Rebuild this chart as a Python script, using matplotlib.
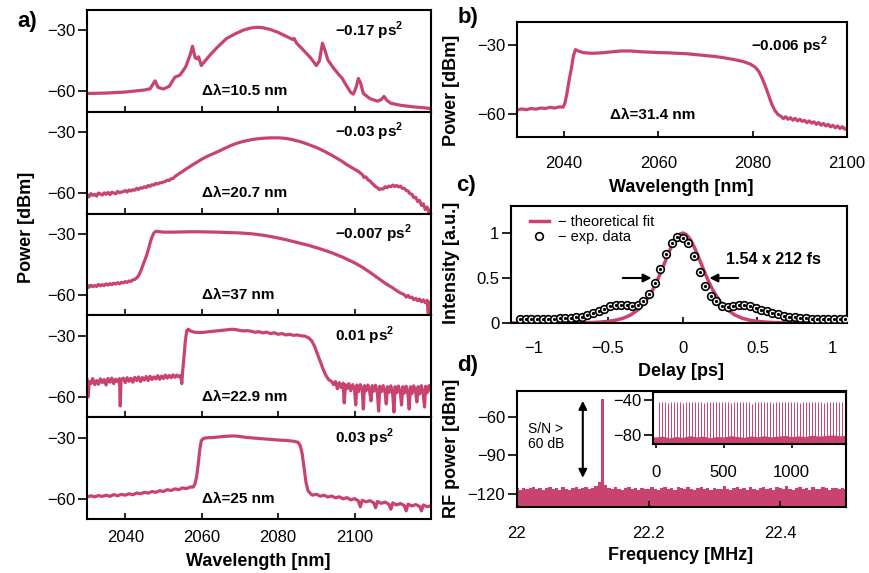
import matplotlib
matplotlib.use('Agg')
import matplotlib.pyplot as plt
from matplotlib.ticker import FuncFormatter

plt.rcParams['font.family'] = ['Liberation Sans', 'DejaVu Sans']
plt.rcParams['mathtext.fontset'] = 'custom'
plt.rcParams['mathtext.rm'] = 'Liberation Sans'
plt.rcParams['mathtext.bf'] = 'Liberation Sans:bold'

PINK = '#C8446F'

# ---- panel a: spectra for five dispersion values ----
a1_wl = [2030, 2035, 2040, 2045, 2046.5, 2047.8, 2048.6, 2050, 2051.5, 2053, 2054.3, 2055.8, 2057,
         2057.6, 2058.3, 2058.8, 2059.2, 2059.9, 2062, 2064, 2066.5, 2067.5, 2069, 2071, 2073, 2074.5,
         2076, 2078, 2080, 2082, 2083.8, 2084.2, 2084.8, 2086.5, 2088.5, 2090, 2090.8, 2091.6, 2092.3,
         2093, 2094.5, 2096, 2096.8, 2097.5, 2099, 2099.7, 2100.4, 2101, 2101.6, 2102.3, 2104, 2106,
         2107, 2107.7, 2108.5, 2109.5, 2112, 2115, 2118, 2120]
a1_db = [-61, -60.8, -60.3, -59.3, -58.7, -54.8, -58, -58.8, -57.5, -53, -52, -48, -42,
         -37.8, -43.5, -44, -43, -47.3, -42.5, -38.5, -34, -33, -31.5, -29.8, -28.8, -28.5,
         -28.7, -29.6, -31, -32.8, -34.5, -34, -36.2, -39.5, -43.5, -47.3, -45, -36.3, -40,
         -44.5, -48.5, -52, -53.6, -56, -60.5, -61.3, -58, -53.6, -56, -61, -63.5, -64.8,
         -64, -62.4, -64.5, -65.8, -66.8, -67.5, -68, -68.4]

a2_wl = [2030, 2030.5, 2031, 2031.5, 2032, 2032.5, 2033, 2033.5, 2034, 2034.5, 2035, 2035.5, 2036,
         2036.5, 2037, 2037.5, 2038, 2038.5, 2039, 2039.5, 2040, 2040.5, 2041, 2041.5, 2042, 2042.5,
         2043, 2043.5, 2044, 2044.5, 2045, 2045.5, 2046, 2046.5, 2047, 2047.5, 2048, 2048.5, 2049,
         2049.5, 2050, 2050.5, 2051, 2051.5, 2052, 2052.5, 2053, 2054, 2055, 2056, 2057, 2058, 2059,
         2060, 2061, 2062, 2063, 2064, 2065, 2066, 2067, 2068, 2069, 2070, 2071, 2072, 2073, 2074,
         2075, 2076, 2077, 2078, 2079, 2080, 2081, 2082, 2083, 2084, 2085, 2086, 2087, 2088, 2089,
         2090, 2091, 2092, 2093, 2094, 2095, 2096, 2097, 2098, 2099, 2100, 2101, 2102, 2102.5, 2103,
         2103.5, 2104, 2104.5, 2105, 2105.5, 2106, 2106.5, 2107, 2107.5, 2108, 2108.5, 2109, 2109.5,
         2110, 2110.5, 2111, 2111.5, 2112, 2112.5, 2113, 2113.5, 2114, 2114.5, 2115, 2115.5, 2116,
         2116.5, 2117, 2117.5, 2118, 2118.5, 2119, 2119.5, 2120]
a2_db = [-60.5, -61.8, -60.2, -61, -60.6, -61.4, -59.9, -60.4, -60.9, -59.8, -60.5, -59.6, -60.7,
         -59.5, -59.9, -60.3, -59.1, -59.8, -59.4, -59.2, -58.7, -59.4, -58.4, -58.9, -58.3, -58.5,
         -57.6, -58.1, -57.3, -57.5, -56.8, -57.2, -56.2, -56.6, -55.8, -56, -55.2, -55.5, -54.9,
         -54.8, -54.5, -54.2, -53.6, -53.7, -52.9, -52.8, -51.8, -50.5, -49.3, -48, -46.8, -45.6, -44.5,
         -43.3, -42.3, -41.4, -40.6, -39.8, -38.9, -38, -37.1, -36.3, -35.6, -35, -34.5, -34.1, -33.7,
         -33.4, -33.2, -33, -32.9, -32.8, -32.8, -32.8, -32.9, -33.1, -33.4, -33.8, -34.3, -34.8,
         -35.4, -36.1, -36.8, -37.5, -38.4, -39.3, -40.3, -41.3, -42.4, -43.5, -44.7, -46, -47.1,
         -48.2, -49.3, -50.8, -52.3, -52, -53.4, -53.9, -55, -55.8, -56.8, -57.3, -58.2, -57.8,
         -57.9, -56.8, -57.3, -56.5, -56.8, -56, -56.7, -56.2, -56.9, -56.5, -57.6, -57.6, -58.6, -58.9,
         -60.2, -60.5, -62.2, -62, -64, -63.5, -66, -65.2, -68, -66.8, -69.5, -68]

a3_wl = [2030, 2030.5, 2031, 2031.5, 2032, 2032.5, 2033, 2033.5, 2034, 2034.5, 2035, 2035.5, 2036,
         2036.5, 2037, 2037.5, 2038, 2038.5, 2039, 2039.5, 2040, 2040.5, 2041, 2041.5, 2042, 2042.5,
         2043, 2043.5, 2044, 2044.5, 2045, 2045.5, 2046, 2046.5, 2047, 2047.5, 2048, 2049, 2050,
         2052, 2055, 2058, 2061, 2064, 2067, 2070, 2073, 2076, 2079, 2082, 2085, 2088, 2091, 2094,
         2097, 2100, 2102, 2104, 2106, 2108, 2110, 2111, 2112, 2113, 2113.5, 2114, 2114.5, 2115,
         2115.5, 2116, 2116.5, 2117, 2117.5, 2118, 2118.5, 2119, 2119.3, 2119.6, 2120]
a3_db = [-55, -56.2, -55.2, -55.9, -55.3, -55.8, -54.8, -55.5, -54.9, -55.4, -54.5, -55.1, -54.4,
         -54.9, -54.2, -54.6, -53.9, -54.5, -53.8, -54, -53.4, -53.8, -53.1, -53.3, -52.6, -52.3,
         -51.6, -50.5, -48.5, -46, -43.5, -41, -38, -34.5, -31.5, -29.5, -28.7, -28.9, -29.1,
         -29.1, -29, -28.9, -29, -29.1, -29.3, -29.5, -29.9, -30.6, -31.6, -32.8, -34.2, -35.6, -37.3,
         -39.2, -41.5, -44.2, -46.3, -48.8, -51.5, -54.2, -56.5, -57.8, -59, -59.8, -61, -60.2, -61.3,
         -61, -62.3, -61.6, -62.8, -62, -63.3, -62.4, -63.8, -62.6, -70, -63.5, -64]

a4_wl = [2030, 2030.3, 2030.6, 2031, 2031.5, 2032, 2032.5, 2033, 2033.5, 2034, 2034.5, 2035, 2035.5,
         2036, 2036.5, 2037, 2037.5, 2038, 2038.5, 2038.7, 2038.9, 2039.5, 2040, 2040.5, 2041, 2041.5,
         2042, 2042.5, 2043, 2043.5, 2044, 2044.5, 2045, 2045.5, 2046, 2046.5, 2047, 2047.5, 2048,
         2048.5, 2049, 2049.5, 2050, 2050.5, 2051, 2051.5, 2052, 2052.5, 2053, 2053.5, 2054, 2054.5,
         2054.8, 2055, 2055.3, 2055.7, 2056.1, 2056.5, 2057, 2058, 2059, 2060, 2061, 2062, 2063, 2064,
         2065, 2066, 2067, 2068, 2069, 2070, 2071, 2072, 2073, 2074, 2075, 2076, 2077, 2078, 2079,
         2080, 2081, 2082, 2083, 2084, 2085, 2086, 2087, 2088, 2088.8, 2089.5, 2090.2, 2091, 2091.8,
         2092.5, 2093.2, 2094, 2094.5, 2095, 2095.5, 2096, 2096.5, 2097, 2097.3, 2097.6, 2098, 2098.5,
         2099, 2099.5, 2100, 2100.3, 2100.6, 2101, 2101.5, 2102, 2102.3, 2102.6, 2103, 2103.5, 2104,
         2104.3, 2104.6, 2105, 2105.5, 2106, 2106.3, 2106.6, 2107, 2107.5, 2108, 2108.3, 2108.6, 2109,
         2109.5, 2110, 2110.3, 2110.6, 2111, 2111.5, 2112, 2112.3, 2112.6, 2113, 2113.5, 2114, 2114.3,
         2114.6, 2115, 2115.5, 2116, 2116.3, 2116.6, 2117, 2117.5, 2118, 2118.3, 2118.6, 2119, 2119.5,
         2120]
a4_db = [-51.5, -60, -52.5, -53.5, -51, -54, -52, -53.8, -51.2, -53, -51.5, -54.2, -51,
         -52.8, -50.8, -53.5, -51.3, -52.6, -51, -64.5, -52, -50.8, -53, -50.6, -52.4, -50.9,
         -52.8, -50.4, -52, -50.2, -52.5, -50.5, -51.8, -50, -52, -49.9, -51.5, -50.2, -51.2,
         -49.6, -51.4, -49.8, -51, -49.3, -50.8, -49.5, -50.6, -49.2, -50.4, -49.3, -50.2, -49.5,
         -53.5, -48, -42, -33, -27.5, -26.8, -27.6, -28.2, -28.4, -28.4, -28.2, -28, -27.8, -27.6,
         -27.4, -27.2, -27, -26.8, -27, -27.4, -27.6, -27.5, -27.8, -28.3, -28, -28.6, -28.2, -29, -28.5,
         -29.3, -28.9, -29.6, -29.3, -29.8, -29.6, -30, -30.2, -31, -32.5, -35, -38.5, -42.5, -46.5,
         -49.5, -51.5, -52.5, -54, -52.5, -56, -53, -55.5, -53.3, -63, -54, -56, -53.5,
         -57, -54, -56.5, -64, -54.2, -57.5, -54, -56.8, -66, -54.5, -57, -54.2, -58,
         -62, -54.5, -57.2, -54.3, -58.5, -67, -54.8, -57.5, -54.5, -58, -63.5, -55, -57.8,
         -54.6, -59, -67.5, -55, -58, -54.7, -58.5, -64, -55, -58.2, -54.8, -59, -66,
         -55, -58.5, -54.6, -58, -62.5, -55, -58.6, -54.5, -59, -65, -54.8, -58, -54.5,
         -57]

a5_wl = [2030, 2031, 2032, 2033, 2034, 2035, 2036, 2037, 2038, 2039, 2040, 2041, 2042, 2043, 2044,
         2045, 2046, 2047, 2048, 2049, 2050, 2051, 2052, 2053, 2054, 2055, 2056, 2057, 2057.8, 2058.3,
         2058.7, 2059.1, 2059.5, 2059.9, 2060.5, 2061.5, 2063, 2065, 2067, 2068.5, 2070, 2072, 2074,
         2076, 2078, 2080, 2082, 2084, 2085.2, 2085.8, 2086.3, 2086.8, 2087.3, 2087.8, 2088.5, 2089,
         2090, 2091, 2092, 2093, 2094, 2095, 2096, 2097, 2098, 2099, 2100, 2101, 2101.5, 2102, 2103,
         2104, 2105, 2105.5, 2106, 2107, 2108, 2109, 2109.5, 2110, 2111, 2112, 2113, 2113.5, 2114,
         2115, 2116, 2117, 2117.5, 2118, 2119, 2120]
a5_db = [-59.2, -58.6, -59.1, -58.5, -58.9, -58.3, -58.9, -58, -58.6, -57.9, -58.3, -57.6, -58.1, -57.2,
         -57.6, -56.9, -57.3, -56.5, -56.9, -56.1, -56.5, -55.6, -56, -55.2, -55.6, -54.7, -55.1, -54.3,
         -54.3, -52.5, -49, -43, -36, -31.5, -30.4, -30.1, -30, -29.6, -29.3, -29.2, -29.5, -30, -30.3,
         -30.6, -30.9, -31.2, -31.4, -31.8, -32.3, -34, -38, -45, -52, -56, -57.6, -58.3, -57.8, -58.8,
         -58.3, -59.2, -58.7, -59.6, -59.1, -60.1, -59.5, -60.6, -60, -61.1, -64, -60.8, -61.6, -61,
         -62, -64.5, -61.4, -62.3, -61.7, -62.8, -65.2, -62.1, -63.1, -62.4, -63.4, -66, -62.7, -63.6,
         -62.9, -63.8, -66, -63.1, -64, -63.5]

a_gdd = ['\u22120.17 ps$^{\\mathbf{2}}$', '\u22120.03 ps$^{\\mathbf{2}}$', '\u22120.007 ps$^{\\mathbf{2}}$',
         '0.01 ps$^{\\mathbf{2}}$', '0.03 ps$^{\\mathbf{2}}$']
a_bw = ['\u0394\u03bb=10.5 nm', '\u0394\u03bb=20.7 nm', '\u0394\u03bb=37 nm', '\u0394\u03bb=22.9 nm',
        '\u0394\u03bb=25 nm']

# ---- panel b ----
b_wl = [2030, 2031, 2032, 2033, 2034, 2035, 2036, 2037, 2038, 2039, 2039.8, 2040.2, 2040.6, 2041,
        2041.5, 2042, 2042.4, 2043, 2044, 2045, 2046, 2047, 2048, 2050, 2052, 2054, 2056, 2058, 2060,
        2062, 2064, 2066, 2068, 2070, 2072, 2074, 2076, 2078, 2079.5, 2080.5, 2081.3, 2082, 2082.7,
        2083.4, 2084, 2084.7, 2085.4, 2086, 2086.5, 2087, 2087.5, 2088, 2088.5, 2089, 2089.5, 2090,
        2090.5, 2091, 2091.5, 2092, 2092.5, 2093, 2093.5, 2094, 2094.5, 2095, 2095.5, 2096, 2096.5,
        2097, 2097.5, 2098, 2098.5, 2099, 2099.5, 2100]
b_db = [-58.3, -57.8, -58.1, -57.6, -57.9, -57.4, -57.6, -57.1, -57.4, -56.9, -57, -55, -51, -46,
        -40.5, -34.5, -32, -32.6, -33.3, -33.5, -33.6, -33.5, -33.4, -33, -32.6, -32.6, -32.9, -33.1,
        -33.3, -33.4, -33.6, -33.8, -34.2, -34.6, -35, -35.6, -36.3, -37.2, -38.3, -39.6, -41.5, -44.5,
        -48, -52, -55.5, -58.5, -60.3, -61, -62, -61.2, -62.3, -61.6, -62.7, -61.9, -63, -62.3,
        -63.2, -62.8, -63.8, -63, -64, -63.4, -64.5, -63.7, -64.9, -64.1, -65.2, -64.5, -65.6,
        -64.9, -66, -65.2, -66.3, -65.5, -66.6, -66]

# ---- panel c: autocorrelation ----
delay_exp = [-1.088, -1.05, -1.013, -0.975, -0.938, -0.9, -0.863, -0.825, -0.788, -0.75, -0.713,
             -0.675, -0.638, -0.6, -0.563, -0.525, -0.488, -0.45, -0.413, -0.375, -0.338, -0.3,
             -0.263, -0.225, -0.188, -0.15, -0.113, -0.075, -0.038, 0, 0.038, 0.075, 0.113, 0.15,
             0.188, 0.225, 0.263, 0.3, 0.338, 0.375, 0.413, 0.45, 0.488, 0.525, 0.563, 0.6, 0.638,
             0.675, 0.713, 0.75, 0.788, 0.825, 0.863, 0.9, 0.938, 0.975, 1.013, 1.05, 1.088]
ac_exp = [0.04, 0.04, 0.045, 0.045, 0.05, 0.05, 0.05, 0.055, 0.055, 0.06, 0.065,
          0.07, 0.09, 0.11, 0.13, 0.16, 0.19, 0.2, 0.2, 0.195, 0.185, 0.2,
          0.25, 0.32, 0.44, 0.6, 0.77, 0.89, 0.96, 0.95, 0.89, 0.74, 0.57, 0.41,
          0.3, 0.24, 0.19, 0.18, 0.19, 0.2, 0.2, 0.19, 0.17, 0.15, 0.13, 0.11, 0.095,
          0.08, 0.07, 0.065, 0.06, 0.055, 0.05, 0.05, 0.045, 0.045, 0.04, 0.04, 0.04]
delay_fit = [-1.15, -0.8, -0.7, -0.6, -0.55, -0.5, -0.45, -0.4, -0.35, -0.3, -0.25, -0.2, -0.175,
             -0.15, -0.125, -0.1, -0.075, -0.05, -0.025, 0, 0.025, 0.05, 0.075, 0.1, 0.125, 0.15,
             0.175, 0.2, 0.25, 0.3, 0.35, 0.4, 0.45, 0.5, 0.55, 0.6, 0.7, 0.8, 1.1]
ac_fit = [0, 0.001, 0.002, 0.006, 0.011, 0.018, 0.031, 0.052, 0.088, 0.146, 0.236, 0.371, 0.455,
          0.551, 0.652, 0.757, 0.851, 0.930, 0.982, 1.0, 0.982, 0.930, 0.851, 0.757, 0.652, 0.551,
          0.455, 0.371, 0.236, 0.146, 0.088, 0.052, 0.031, 0.018, 0.011, 0.006, 0.002, 0.001, 0]

# ---- panel d: RF spectrum ----
rf_freq = [22.000, 22.005, 22.010, 22.015, 22.020, 22.025, 22.030, 22.035, 22.040, 22.045,
           22.050, 22.055, 22.060, 22.065, 22.070, 22.075, 22.080, 22.085, 22.090, 22.095,
           22.100, 22.105, 22.110, 22.115, 22.120, 22.125, 22.130, 22.135, 22.140, 22.145,
           22.150, 22.155, 22.160, 22.165, 22.170, 22.175, 22.180, 22.185, 22.190, 22.195,
           22.200, 22.205, 22.210, 22.215, 22.220, 22.225, 22.230, 22.235, 22.240, 22.245,
           22.250, 22.255, 22.260, 22.265, 22.270, 22.275, 22.280, 22.285, 22.290, 22.295,
           22.300, 22.305, 22.310, 22.315, 22.320, 22.325, 22.330, 22.335, 22.340, 22.345,
           22.350, 22.355, 22.360, 22.365, 22.370, 22.375, 22.380, 22.385, 22.390, 22.395,
           22.400, 22.405, 22.410, 22.415, 22.420, 22.425, 22.430, 22.435, 22.440, 22.445,
           22.450, 22.455, 22.460, 22.465, 22.470, 22.475, 22.480, 22.485, 22.490, 22.495,
           22.500]
rf_db = [-115.2, -116.6, -114.9, -116.2, -115.5, -114.6, -116.4, -115.0, -116.8, -115.3,
         -114.2, -116.0, -115.4, -116.5, -114.8, -115.9, -116.7, -115.1, -114.5, -116.3,
         -115.6, -114.3, -116.1, -115.0, -113.6, -110.5, -46.0, -113.2, -115.4, -116.2,
         -114.7, -115.8, -116.6, -115.0, -114.4, -116.3, -115.5, -116.9, -114.9, -115.7,
         -116.4, -114.6, -115.9, -116.8, -115.2, -114.3, -116.0, -115.5, -116.7, -114.8,
         -115.6, -116.3, -114.5, -115.8, -116.9, -115.1, -114.2, -116.2, -115.4, -116.6,
         -114.9, -115.7, -116.4, -113.9, -115.9, -116.8, -115.2, -114.6, -116.1, -115.5,
         -116.7, -114.4, -115.8, -116.5, -115.0, -114.7, -116.3, -115.6, -116.9, -114.5,
         -115.3, -116.1, -113.8, -115.7, -116.6, -115.1, -114.8, -116.4, -115.4, -116.8,
         -114.6, -115.9, -116.2, -114.3, -115.6, -116.7, -115.0, -114.9, -116.3, -115.5,
         -116.0]

# inset: harmonics of the repetition rate
comb_freq = [22, 44, 66, 89, 111, 133, 155, 177, 199, 221, 243, 266, 288, 310, 332, 354, 376, 398,
             420, 443, 465, 487, 509, 531, 553, 575, 598, 620, 642, 664, 686, 708, 730, 753, 775,
             797, 819, 841, 863, 885, 907, 930, 952, 974, 996, 1018, 1040, 1062, 1085, 1107, 1129,
             1151, 1173, 1195, 1217, 1239, 1262, 1284, 1306, 1328, 1350, 1372, 1394]
comb_db = [-42, -42.5, -42, -43, -42, -42.3, -42, -42.6, -44, -42, -42.4, -42, -42.8, -42, -42.2,
           -43.5, -42, -42.5, -42, -42.2, -42.7, -42, -42.4, -42, -43, -42.2, -42, -42.6, -42,
           -42.3, -42, -44.5, -42.2, -42, -42.6, -42, -42.4, -42, -43.2, -42, -42.5, -42, -42.3,
           -42, -42.7, -42, -42.2, -43.8, -42, -42.4, -42, -42.6, -42.1, -42, -42.5, -43, -42,
           -42.3, -42, -42.8, -42, -42.4, -42]
floor_freq = [-20, 0, 50, 100, 150, 200, 250, 300, 350, 400, 450, 500, 550, 600, 650, 700, 750, 800,
              850, 900, 950, 1000, 1050, 1100, 1150, 1200, 1250, 1300, 1350, 1410]
floor_db = [-82, -82, -81, -83, -81.5, -82.5, -80.5, -82, -81, -83, -81.5, -82, -80.5, -81.5, -82.5,
            -80.8, -81.8, -80.5, -82, -81, -80.2, -81.5, -80.8, -81.6, -80, -81, -80.4, -79.6,
            -80.8, -79.8]

W, H = 870, 573
fig = plt.figure(figsize=(W / 100, H / 100), dpi=100)


def add_ax(l, t, r, b):
    return fig.add_axes([l / W, 1 - b / H, (r - l) / W, (b - t) / H])


def ftext(x, y, s, **kw):
    fig.text(x / W, 1 - y / H, s, **kw)


fmt = FuncFormatter(lambda v, p: ('%g' % v).replace('-', '\u2212'))


def style(ax, xpad):
    for sp in ax.spines.values():
        sp.set_linewidth(1.5)
    ax.tick_params(axis='x', direction='in', length=4, width=1.2, pad=xpad, labelsize=12)
    ax.tick_params(axis='y', direction='out', length=6.5, width=1.2, pad=2, labelsize=12)
    ax.xaxis.set_major_formatter(fmt)
    ax.yaxis.set_major_formatter(fmt)


# panel a
spectra = [(a1_wl, a1_db), (a2_wl, a2_db), (a3_wl, a3_db), (a4_wl, a4_db), (a5_wl, a5_db)]
for i, (wl, db) in enumerate(spectra):
    top = 10 + i * 101.8
    ax = add_ax(87, top, 431, top + 101.8)
    ax.plot(wl, db, color=PINK, lw=2.3)
    ax.set_xlim(2030, 2120)
    ax.set_ylim(-70, -20)
    ax.set_yticks([-30, -60])
    ax.set_xticks([2040, 2060, 2080, 2100])
    style(ax, 8)
    if i < 4:
        ax.tick_params(axis='x', labelbottom=False)
    ax.text(2095, -30, a_gdd[i], fontsize=11, fontweight='bold', va='center', ha='left')
    ax.text(2060, -60, a_bw[i], fontsize=11, fontweight='bold', va='center', ha='left')

ftext(27, 227, 'Power [dBm]', rotation=90, fontsize=13, fontweight='bold', ha='center', va='center')
ftext(258, 562, 'Wavelength [nm]', fontsize=13, fontweight='bold', ha='center', va='center')
ftext(27, 22, 'a)', fontsize=16, fontweight='bold', ha='center', va='center')

# panel b
axb = add_ax(517, 22, 847, 137)
axb.plot(b_wl, b_db, color=PINK, lw=2.3)
axb.set_xlim(2030, 2100)
axb.set_ylim(-70, -20)
axb.set_yticks([-30, -60])
axb.set_xticks([2040, 2060, 2080, 2100])
style(axb, 14)
axb.text(2079.7, -30.3, '\u22120.006 ps$^{\\mathbf{2}}$', fontsize=11, fontweight='bold', va='center')
axb.text(2049.7, -60.3, '\u0394\u03bb=31.4 nm', fontsize=11, fontweight='bold', va='center')
ftext(452, 90, 'Power [dBm]', rotation=90, fontsize=13, fontweight='bold', ha='center', va='center')
ftext(681, 187, 'Wavelength [nm]', fontsize=13, fontweight='bold', ha='center', va='center')
ftext(468, 17, 'b)', fontsize=16, fontweight='bold', ha='center', va='center')

# panel c
axc = add_ax(511, 206, 847, 323)
fit_line, = axc.plot(delay_fit, ac_fit, color=PINK, lw=2.5, zorder=2)
exp_pts, = axc.plot(delay_exp, ac_exp, ls='none', marker='o', ms=5.5, mfc='white', mec='black',
                    mew=1.2, zorder=3)
axc.plot(delay_exp, ac_exp, ls='none', marker='o', ms=1.3, color='black', zorder=4)
axc.set_xlim(-1.15, 1.1)
axc.set_ylim(0, 1.3)
axc.set_xticks([-1, -0.5, 0, 0.5, 1])
axc.set_yticks([0, 0.5, 1])
style(axc, 13)
axc.legend([fit_line, exp_pts], ['\u2212 theoretical fit', '\u2212 exp. data'], loc='upper left',
           frameon=False, fontsize=10.5, handlelength=1.3, handletextpad=0.6, labelspacing=0.1,
           borderaxespad=0.2, bbox_to_anchor=(0.03, 1.0))
axc.annotate('', xy=(-0.19, 0.5), xytext=(-0.42, 0.5),
             arrowprops=dict(arrowstyle='-|>', color='black', lw=1.5, mutation_scale=12))
axc.annotate('', xy=(0.16, 0.5), xytext=(0.39, 0.5),
             arrowprops=dict(arrowstyle='-|>', color='black', lw=1.5, mutation_scale=12))
axc.text(0.292, 0.70, '1.54 x 212 fs', fontsize=11.5, fontweight='bold', va='center')
ftext(452, 263, 'Intensity [a.u.]', rotation=90, fontsize=13, fontweight='bold', ha='center', va='center')
ftext(681, 372, 'Delay [ps]', fontsize=13, fontweight='bold', ha='center', va='center')
ftext(466, 186, 'c)', fontsize=16, fontweight='bold', ha='center', va='center')

# panel d
axd = add_ax(517, 391, 846, 507)
axd.fill_between(rf_freq, rf_db, -140, step='mid', color=PINK, lw=0)
axd.set_xlim(22, 22.5)
axd.set_ylim(-130, -40)
axd.set_xticks([22, 22.2, 22.4])
axd.set_yticks([-60, -90, -120])
style(axd, 14)
axd.annotate('', xy=(22.1, -45.5), xytext=(22.1, -109.5),
             arrowprops=dict(arrowstyle='<|-|>', color='black', lw=1.5, mutation_scale=12))
axd.text(22.017, -75, 'S/N >\n60 dB', fontsize=10, va='center', ha='left', linespacing=1.1)
ftext(452, 448, 'RF power [dBm]', rotation=90, fontsize=13, fontweight='bold', ha='center', va='center')
ftext(681, 555, 'Frequency [MHz]', fontsize=13, fontweight='bold', ha='center', va='center')
ftext(468, 366, 'd)', fontsize=16, fontweight='bold', ha='center', va='center')

# inset
axi = add_ax(653, 392, 846, 444)
axi.vlines(comb_freq, -90, comb_db, color=PINK, lw=0.7)
axi.fill_between(floor_freq, floor_db, -95, color=PINK, lw=0)
axi.set_xlim(-20, 1400)
axi.set_ylim(-90, -31)
axi.set_xticks([0, 500, 1000])
axi.set_yticks([-40, -80])
style(axi, 12)
axi.tick_params(axis='x', direction='out', length=3)

fig.savefig('out.png', dpi=100)
